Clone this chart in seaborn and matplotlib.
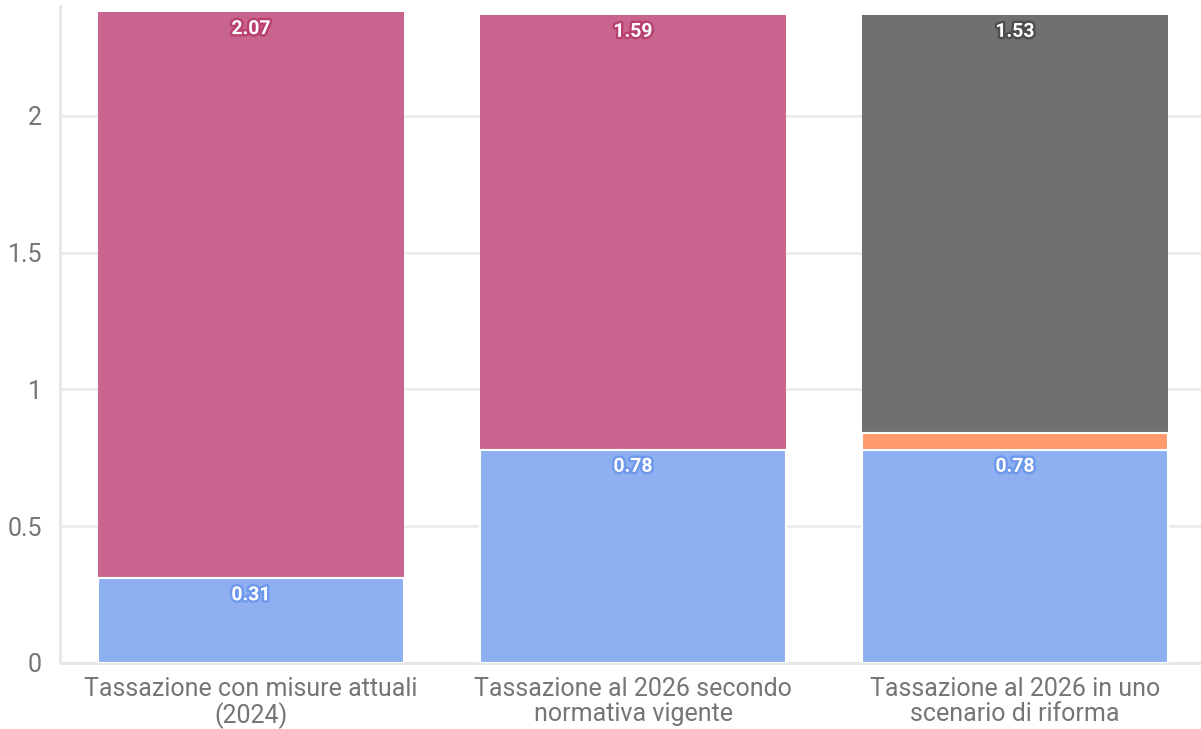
import matplotlib
matplotlib.use("Agg")
import matplotlib.pyplot as plt
import matplotlib.patheffects as pe
import seaborn as sns
import pandas as pd
import numpy as np

categories = ["Tassazione con misure attuali\n(2024)",
              "Tassazione al 2026 secondo\nnormativa vigente",
              "Tassazione al 2026 in uno\nscenario di riforma"]
blue_vals = [0.31, 0.78, 0.78]
orange_vals = [0.0, 0.0, 0.06]
pink_vals = [2.07, 1.59, 0.0]
gray_vals = [0.0, 0.0, 1.53]

c_blue = "#8EB0F1"
c_orange = "#FF9A6F"
c_pink = "#C9648E"
c_gray = "#707070"
stroke = {"blue": "#6E98EC", "pink": "#B8416F", "gray": "#4E4E4E"}

sns.set_theme(style="white")
plt.rcParams['font.family'] = ['Roboto', 'DejaVu Sans']

fig = plt.figure(figsize=(12.01, 7.29), dpi=100)
ax = fig.add_axes([60/1201, 66/729, 1146/1201, 657/729])

b = np.array(blue_vals)
o = np.array(orange_vals)
p = np.array(pink_vals)
g = np.array(gray_vals)

total = b + o + p + g
top_colors = [c_pink if pv > 0 else c_gray for pv in p]
df_total = pd.DataFrame({"cat": categories, "val": total})
df_bo = pd.DataFrame({"cat": categories, "val": b + o})
df_b = pd.DataFrame({"cat": categories, "val": b})

sns.barplot(data=df_total, x="cat", y="val", hue="cat", palette=top_colors,
            legend=False, width=0.8, ax=ax, edgecolor="white", linewidth=0,
            saturation=1, zorder=2)
sns.barplot(data=df_bo, x="cat", y="val", color=c_orange, width=0.8, ax=ax,
            edgecolor="white", linewidth=1.5, saturation=1, zorder=3)
sns.barplot(data=df_b, x="cat", y="val", color=c_blue, width=0.8, ax=ax,
            edgecolor="white", linewidth=1.5, saturation=1, zorder=4)

def label(xi, y, txt, sc):
    ax.annotate(txt, (xi, y), xytext=(0, -12.3), textcoords="offset points",
                ha="center", va="center", color="white", fontsize=14,
                fontweight="bold", zorder=10,
                path_effects=[pe.withStroke(linewidth=3.5, foreground=sc)])

for i in range(len(categories)):
    label(i, b[i], f"{b[i]:.2f}", stroke["blue"])
    if p[i] > 0:
        label(i, total[i], f"{p[i]:.2f}", stroke["pink"])
    if g[i] > 0:
        label(i, total[i], f"{g[i]:.2f}", stroke["gray"])

ax.set_xlim(-0.5, 2.5)
ax.set_ylim(0, 2.402)
ax.set_yticks([0, 0.5, 1, 1.5, 2])
ax.set_yticklabels(["0", "0.5", "1", "1.5", "2"])
ax.set_xlabel("")
ax.set_ylabel("")
ax.yaxis.grid(True, color="#EBEBEB", linewidth=2)
ax.set_axisbelow(True)
for s in ["top", "right"]:
    ax.spines[s].set_visible(False)
for s in ["left", "bottom"]:
    ax.spines[s].set_color("#E6E6E6")
    ax.spines[s].set_linewidth(2)
ax.tick_params(axis="both", colors="#E6E6E6", labelcolor="#757575",
               labelsize=18, length=8, width=2, direction="out")
ax.tick_params(axis="x", pad=2)
ax.tick_params(axis="y", pad=5)
for t in ax.get_xticklabels():
    t.set_linespacing(1.05)

fig.savefig("out.png", dpi=100)
